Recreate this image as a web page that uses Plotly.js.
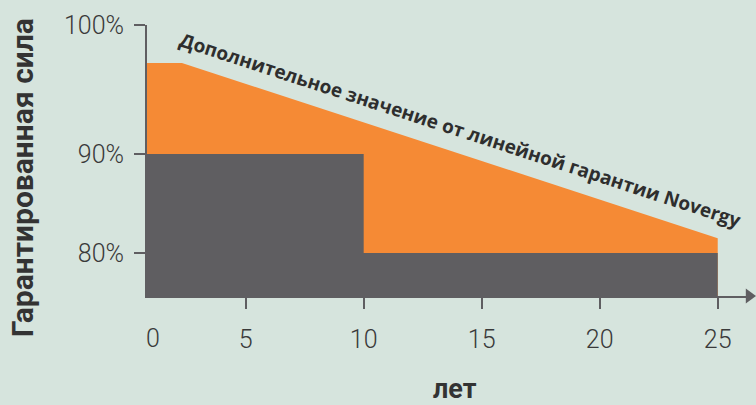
<!DOCTYPE html>
<html>
<head>
<meta charset="utf-8">
<script src="https://cdn.plot.ly/plotly-3.0.1.min.js"></script>
<style>html,body{margin:0;padding:0;background:#d6e4dd;}#chart{width:756px;height:405px;}</style>
</head>
<body>
<div id="chart"></div>
<script>
// Years on x axis
const years = [0, 10, 25];
// Standard (step) guarantee, percent
const stepGuarantee = [90, 80, 80];
// Linear guarantee line (Novergy)
const linearYears = [0, 2.3, 25];
const linearGuarantee = [99.2, 99.2, 81.5];
// Tick labels
const xTicks = [5, 10, 15, 20, 25];
const xZeroLabel = '0';
const yTickVals = [80, 90, 103];
const yTickText = ['80%', '90%', '100%'];

const axisColor = '#5f5e61';

const traces = [
  {
    x: linearYears, y: linearGuarantee, type: 'scatter', mode: 'lines',
    fill: 'tozeroy', fillcolor: '#f58a35', line: {color: '#f58a35', width: 0},
    hoverinfo: 'skip', showlegend: false
  },
  {
    x: years, y: stepGuarantee, type: 'scatter', mode: 'lines',
    line: {shape: 'hv', color: '#5f5e61', width: 0},
    fill: 'tozeroy', fillcolor: '#5f5e61',
    hoverinfo: 'skip', showlegend: false
  }
];

const layout = {
  width: 756, height: 405,
  paper_bgcolor: '#d6e4dd', plot_bgcolor: 'rgba(0,0,0,0)',
  margin: {l: 147, r: 9, t: 25, b: 109},
  font: {family: 'Roboto, sans-serif', color: '#3a3a3a'},
  xaxis: {
    range: [0.82, 26.24], tickvals: xTicks, ticks: 'outside', ticklen: 11, tickwidth: 2,
    tickcolor: axisColor, showline: true, linecolor: axisColor, linewidth: 2,
    showgrid: false, zeroline: false, ticklabelstandoff: 9,
    tickfont: {size: 25, weight: 300, color: '#3a3a3a'}
  },
  yaxis: {
    range: [75.66, 103.03], tickvals: yTickVals, ticktext: yTickText,
    ticks: 'outside', ticklen: 11, tickwidth: 2, tickcolor: axisColor,
    showline: true, linecolor: axisColor, linewidth: 2,
    showgrid: false, zeroline: false, ticklabelstandoff: 5,
    tickfont: {size: 25, weight: 300, color: '#3a3a3a'}
  },
  shapes: [
    {type: 'path', xref: 'paper', yref: 'paper',
     path: 'M 0.998 0.028 L 1.015 0 L 0.998 -0.028 Z',
     fillcolor: axisColor, line: {width: 0}}
  ],
  annotations: [
    {text: 'Дополнительное значение от линейной гарантии Novergy',
     x: 14.1, y: 92.4, xref: 'x', yref: 'y', showarrow: false, textangle: 18,
     font: {family: '"Open Sans", sans-serif', size: 19, weight: 'bold', color: '#2e2e2e'}},
    {text: xZeroLabel, xref: 'paper', yref: 'paper',
     x: 0.01, y: -0.158, xanchor: 'center', yanchor: 'middle', showarrow: false,
     font: {size: 25, weight: 300, color: '#3a3a3a'}},
    {text: 'Гарантированная сила', xref: 'paper', yref: 'paper',
     x: -0.208, y: 0.435, xanchor: 'center', yanchor: 'middle', showarrow: false, textangle: -90,
     font: {size: 30, weight: 'bold', color: '#333333'}},
    {text: 'лет', xref: 'paper', yref: 'paper',
     x: 0.513, y: -0.345, xanchor: 'center', yanchor: 'middle', showarrow: false,
     font: {size: 27, weight: 'bold', color: '#333333'}}
  ]
};

Plotly.newPlot('chart', traces, layout, {staticPlot: true, displayModeBar: false});
</script>
</body>
</html>
